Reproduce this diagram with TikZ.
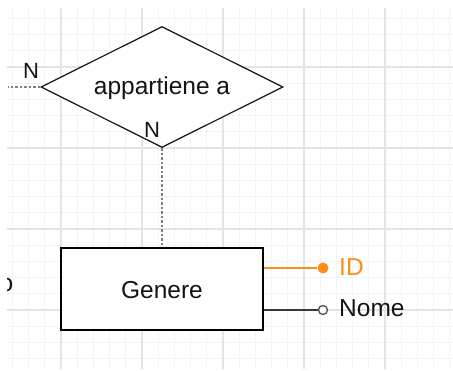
\documentclass[tikz,border=0pt]{standalone}
\usepackage{fontspec}
\setmainfont{Liberation Sans}
\usetikzlibrary{shapes.geometric}
\definecolor{gmajor}{HTML}{E4E4E4}
\definecolor{gminor}{HTML}{F4F4F4}
\definecolor{attrorange}{HTML}{FF8C1A}
\definecolor{ink}{HTML}{141414}
\definecolor{dashgrey}{HTML}{808080}
\tikzset{
  lbl/.style={font=\fontsize{24.5}{26}\selectfont, text=ink, inner sep=0pt},
  card/.style={font=\fontsize{22}{24}\selectfont, text=ink, inner sep=0pt},
  rel/.style={draw=ink, line width=1.2pt, diamond, aspect=2, minimum width=242pt, minimum height=121pt, inner sep=0pt, fill=white},
  ent/.style={draw=black, line width=1.8pt, rectangle, minimum width=202pt, minimum height=82pt, fill=white},
  conn/.style={draw=dashgrey, line width=1.1pt, dash pattern=on 2.5pt off 2pt},
  keyline/.style={draw=attrorange, line width=1.4pt},
  attrline/.style={draw=ink!85, line width=1.6pt},
}
\begin{document}
\begin{tikzpicture}[x=1pt,y=-1pt]
\useasboundingbox (0,0) rectangle (453,371);
\fill[white] (0,0) rectangle (453,371);
% grid
\begin{scope}
\clip (7,9) rectangle (453,369);
\foreach \i in {-3,...,25} {
  \draw[gminor, line width=0.9pt] ({61+16.2*\i},0) -- ({61+16.2*\i},371);
  \draw[gminor, line width=0.9pt] (0,{67+16.2*\i}) -- (453,{67+16.2*\i});
}
\foreach \i in {0,...,5} {
  \draw[gmajor, line width=1.1pt] ({61+81*\i},0) -- ({61+81*\i},371);
}
\foreach \i in {-1,...,4} {
  \draw[gmajor, line width=1.1pt] (0,{67+81*\i}) -- (453,{67+81*\i});
}
\end{scope}
% partial text at the left edge
\begin{scope}
\clip (7,0) rectangle (453,371);
\node[lbl] (cut) at (6.5,285) {o};
\end{scope}
% relationship and entity
\node[rel] (d) at (162,87) {};
\node[lbl] (dtext) at (162,88) {appartiene a};
\node[ent] (r) at (162,289) {};
\node[lbl] (rtext) at (162,290) {Genere};
% connectors
\coordinate (lend) at (8,87);
\draw[conn] (d.west) -- (lend);
\draw[conn] (d.south) -- (r.north);
\node[card] (n1) at (31,71) {N};
\node[card] (n2) at (152,130) {N};
% attributes
\node[circle, fill=attrorange, inner sep=0pt, minimum size=11pt] (iddot) at (323,268) {};
\draw[keyline] (iddot.west) -- (iddot.west -| r.east);
\node[lbl, text=attrorange, anchor=west] (idt) at (339,267) {ID};
\node[circle, draw=ink!75, fill=white, line width=1.3pt, inner sep=0pt, minimum size=9pt] (nmdot) at (323,310) {};
\draw[attrline] (nmdot.west) -- (nmdot.west -| r.east);
\node[lbl, anchor=west] (nmt) at (339,308) {Nome};
\end{tikzpicture}
\end{document}
